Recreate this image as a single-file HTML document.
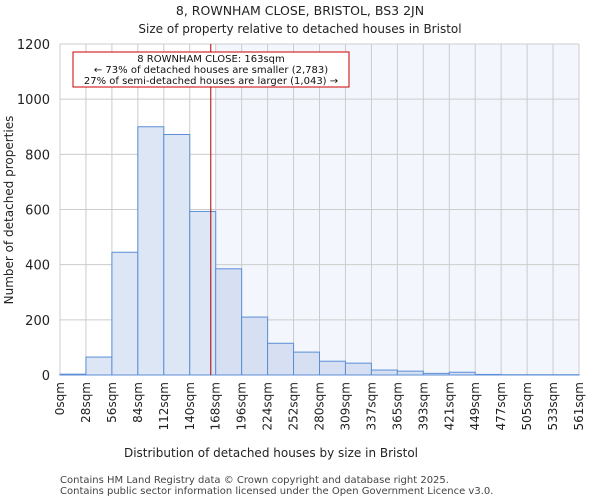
<!DOCTYPE html>
<html><head><meta charset="utf-8"><style>
body{margin:0;background:#fff;font-family:"DejaVu Sans","Liberation Sans",sans-serif;}
</style></head><body>
<svg width="600" height="500" xmlns="http://www.w3.org/2000/svg" font-family="DejaVu Sans, Liberation Sans, sans-serif">
<text x="300" y="15" text-anchor="middle" font-size="12.5" fill="#222">8, ROWNHAM CLOSE, BRISTOL, BS3 2JN</text>
<text x="300" y="33" text-anchor="middle" font-size="12" fill="#222">Size of property relative to detached houses in Bristol</text>
<g id="plot"></g>
<text x="271" y="457" text-anchor="middle" font-size="12" fill="#222">Distribution of detached houses by size in Bristol</text>
<text transform="translate(13,210) rotate(-90)" text-anchor="middle" font-size="12" fill="#222">Number of detached properties</text>
<text x="60" y="483" font-size="10" fill="#444">Contains HM Land Registry data © Crown copyright and database right 2025.</text>
<text x="60" y="494" font-size="10" fill="#444">Contains public sector information licensed under the Open Government Licence v3.0.</text>
</svg>
<script>
const tickLabels=["0sqm","28sqm","56sqm","84sqm","112sqm","140sqm","168sqm","196sqm","224sqm","252sqm","280sqm","309sqm","337sqm","365sqm","393sqm","421sqm","449sqm","477sqm","505sqm","533sqm","561sqm"];
const counts=[3,65,445,900,872,593,385,210,115,83,50,43,18,14,6,10,2,1,1,1];
const yTicks=[0,200,400,600,800,1000,1200];
const propertySize=163;
const binWidth=28.05;
const X0=60,X1=579,Y0=375,Y1=44,NS="http://www.w3.org/2000/svg";
const nb=counts.length;
const bw=(X1-X0)/nb;
const xs=v=>X0+v/(binWidth*nb)*(X1-X0);
const ys=v=>Y0-v/1200*(Y0-Y1);
const g=document.getElementById('plot');
function mk(t,a){const e=document.createElementNS(NS,t);for(const k in a)e.setAttribute(k,a[k]);g.appendChild(e);return e;}
const hl=Math.ceil(propertySize/binWidth);
const bg=mk('rect',{x:X0+hl*bw,y:Y1,width:X1-X0-hl*bw,height:Y0-Y1,fill:'#f3f6fd'});


for(let i=0;i<=nb;i++){const l=mk('line',{x1:X0+i*bw,x2:X0+i*bw,y1:Y1,y2:Y0,stroke:'#ccc','stroke-width':1});

}
yTicks.forEach(v=>{const l=mk('line',{x1:X0,x2:X1,y1:ys(v),y2:ys(v),stroke:'#ccc','stroke-width':1});


const t=mk('text',{x:X0-10,y:ys(v)+5,'text-anchor':'end','font-size':13,fill:'#222'});t.textContent=v;

});
counts.forEach((c,i)=>{const r=mk('rect',{x:X0+i*bw,y:ys(c),width:bw,height:Y0-ys(c),fill:i<hl?'#dde6f4':'#d6e0f2',stroke:'#5b8ed6','stroke-width':1});

});
tickLabels.forEach((s,i)=>{const x=X0+i*bw;const t=mk('text',{transform:`translate(${x+4},${Y0+7}) rotate(-90)`,'text-anchor':'end','font-size':12,fill:'#222'});t.textContent=s;

});
const px=xs(propertySize);
const ml=mk('line',{x1:px,x2:px,y1:Y1,y2:Y0,stroke:'#a00','stroke-width':1});


const box=mk('rect',{x:73,y:52,width:276,height:35,fill:'#fff',stroke:'#c00','stroke-width':1});


["8 ROWNHAM CLOSE: 163sqm","← 73% of detached houses are smaller (2,783)","27% of semi-detached houses are larger (1,043) →"].forEach((s,i)=>{const t=mk('text',{x:211,y:62+i*11,'text-anchor':'middle','font-size':10,fill:'#111'});t.textContent=s;

});
</script>
</body></html>
